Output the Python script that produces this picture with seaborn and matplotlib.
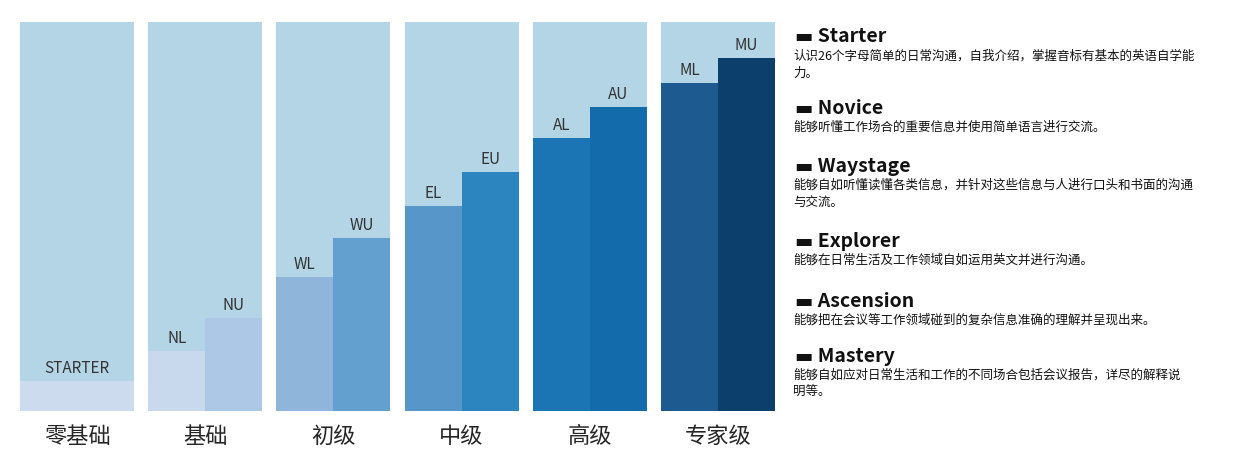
import matplotlib.pyplot as plt
import seaborn as sns

groups = ["零基础", "基础", "初级", "中级", "高级", "专家级"]
low_labels = ["STARTER", "NL", "WL", "EL", "AL", "ML"]
low_values = [7.7, 15.4, 34.4, 52.7, 70.2, 84.3]
high_labels = [None, "NU", "WU", "EU", "AU", "MU"]
high_values = [None, 23.9, 44.5, 61.4, 78.1, 90.7]
low_colors = ["#ccdbee", "#c8d9ee", "#8fb5da", "#5696c8", "#1b75b5", "#1c5a90"]
high_colors = [None, "#adc8e6", "#64a0cf", "#2c85be", "#136bab", "#0d3f6d"]
levels = ["Starter", "Novice", "Waystage", "Explorer", "Ascension", "Mastery"]
descriptions = [
    ["认识26个字母简单的日常沟通，自我介绍，掌握音标有基本的英语自学能", "力。"],
    ["能够听懂工作场合的重要信息并使用简单语言进行交流。"],
    ["能够自如听懂读懂各类信息，并针对这些信息与人进行口头和书面的沟通", "与交流。"],
    ["能够在日常生活及工作领域自如运用英文并进行沟通。"],
    ["能够把在会议等工作领域碰到的复杂信息准确的理解并呈现出来。"],
    ["能够自如应对日常生活和工作的不同场合包括会议报告，详尽的解释说", "明等。"],
]
header_y = [37, 108, 166, 241, 301, 356]

sns.set_style("white")
plt.rcParams["font.family"] = ["Noto Sans CJK SC", "DejaVu Sans"]

fig = plt.figure(figsize=(12.42, 4.65), dpi=100)
ax = fig.add_axes([20 / 1242, 1 - 411 / 465, 755 / 1242, 389 / 465])

w = 114 / 128
for i in range(len(groups)):
    ax.bar(i, 100, width=w, color="#b3d5e6", linewidth=0)
    if high_values[i] is None:
        ax.bar(i, low_values[i], width=w, color=low_colors[i], linewidth=0)
        ax.text(i, low_values[i] + 1, low_labels[i], ha="center", va="bottom",
                fontsize=11, color="#333333")
    else:
        xl, xh = i - w / 4, i + w / 4
        ax.bar(xl, low_values[i], width=w / 2, color=low_colors[i], linewidth=0)
        ax.bar(xh, high_values[i], width=w / 2, color=high_colors[i], linewidth=0)
        ax.text(xl, low_values[i] + 1, low_labels[i], ha="center", va="bottom",
                fontsize=11, color="#333333")
        ax.text(xh, high_values[i] + 1, high_labels[i], ha="center", va="bottom",
                fontsize=11, color="#333333")

ax.set_xlim(-w / 2, len(groups) - 1 + w / 2)
ax.set_ylim(0, 100)
ax.set_xticks(range(len(groups)))
ax.set_xticklabels(groups, fontsize=16)
ax.tick_params(axis="x", length=0, pad=10)
ax.set_yticks([])
for s in ax.spines.values():
    s.set_visible(False)

for lvl, desc, y in zip(levels, descriptions, header_y):
    fig.text(795 / 1242, 1 - y / 465, "▬ " + lvl, fontsize=14, fontweight="bold",
             va="center", ha="left", color="#111111")
    for k, line in enumerate(desc):
        fig.text(793 / 1242, 1 - (y + 19 + k * 17) / 465, line, fontsize=9,
                 va="center", ha="left", color="#111111")

fig.savefig("out.png", dpi=100)
